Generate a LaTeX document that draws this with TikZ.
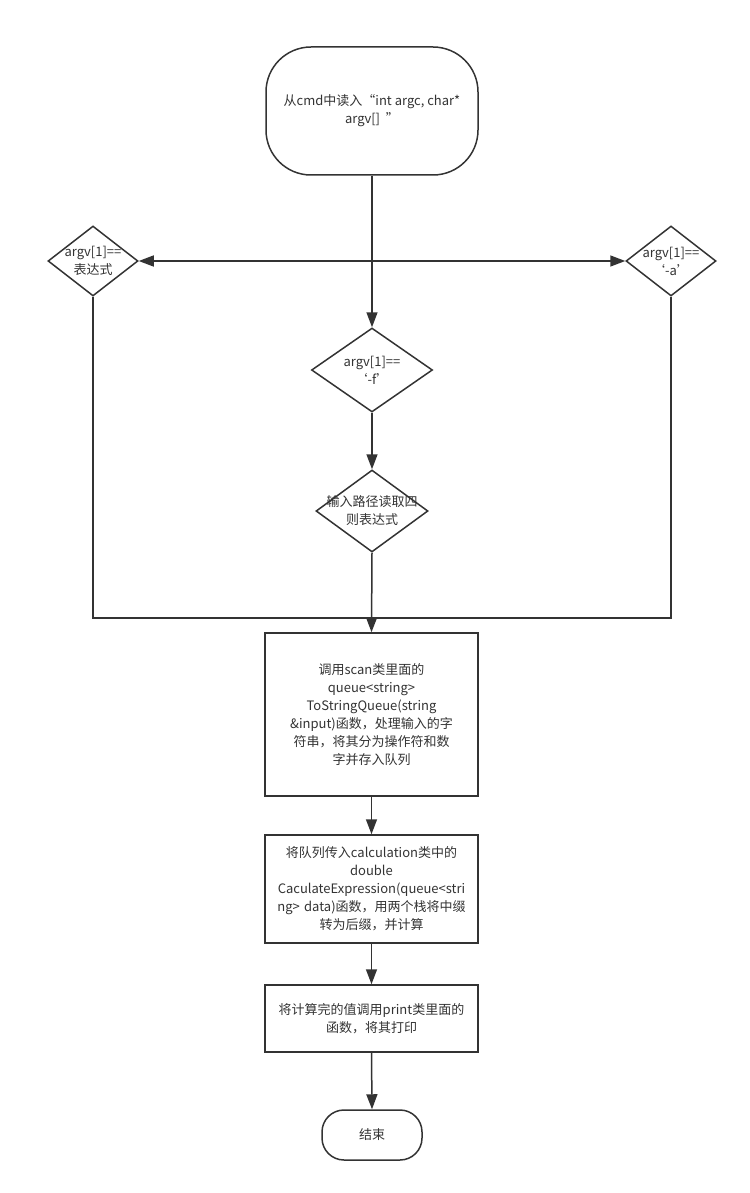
\documentclass[tikz,border=0pt]{standalone}
\usepackage{fontspec}
\setmainfont{Noto Sans CJK SC}
\usetikzlibrary{shapes,arrows,positioning,calc,arrows.meta}

\begin{document}
\begin{tikzpicture}[x=1pt,y=-1pt, line width=1.5pt, draw=black!80,
        every node/.style={font=\fontsize{13}{18}\selectfont, text=black!80},
        proc/.style={draw, rectangle, minimum width=213pt, text width=205pt, align=center},
        term/.style={draw, rectangle, align=center},
        cond/.style={draw, diamond, inner sep=0pt},
        flow/.style={-{Triangle[length=15pt,width=11pt]}}]
        \useasboundingbox (0,0) rectangle (749,1193);

        % Start
        \node[term, minimum width=212pt, minimum height=128pt, rounded corners=45pt] (start) at (372,111)
            {从cmd中读入“int argc, char*\\argv[]\ \ ”};

        % Options
        \node[cond, minimum width=90pt, minimum height=70pt,
            label={[align=center]center:{argv[1]==\\表达式}}] (exprd) at (93,261) {};
        \node[cond, minimum width=90pt, minimum height=70pt,
            label={[align=center]center:{argv[1]==\\‘-a’}}] (ad) at (671,261) {};
        \node[cond, minimum width=121pt, minimum height=84pt,
            label={[align=center]center:{argv[1]==\\‘-f’}}] (fd) at (372,370) {};
        \node[cond, minimum width=112pt, minimum height=82pt,
            label={[align=center]center:{输入路径读取四\\则表达式}}] (pathd) at (372,511) {};

        \coordinate (junc) at (372,261);
        \coordinate (merge) at (372,618);

        % Steps
        \node[proc, minimum height=163pt] (scan) at (371.5,714.5)
            {调用scan类里面的\\queue<string>\\ToStringQueue(string\\\&input)函数，处理输入的字\\符串，将其分为操作符和数\\字并存入队列};
        \node[proc, minimum height=108pt] (calc) at (371.5,889)
            {将队列传入calculation类中的\\double\\CaculateExpression(queue<stri\\ng> data)函数，用两个栈将中缀\\转为后缀，并计算};
        \node[proc, minimum height=67pt] (print) at (371.5,1018.5)
            {将计算完的值调用print类里面的\\函数，将其打印};

        % End
        \node[term, minimum width=100pt, minimum height=50pt, rounded corners=22pt] (end) at (372,1135) {结束};

        % Connectors
        \draw (start.south) -- (junc);
        \draw[flow] (junc) -- (fd.north);
        \draw[flow] (junc) -- (exprd.east);
        \draw[flow] (junc) -- (ad.west);
        \draw[flow] (fd.south) -- (pathd.north);
        \draw (exprd.south) |- (merge);
        \draw (ad.south) |- (merge);
        \draw[flow] (pathd.south) -- (scan.north);
        \draw[flow] (scan.south) -- (calc.north);
        \draw[flow] (calc.south) -- (print.north);
        \draw[flow] (print.south) -- (end.north);
    \end{tikzpicture}
\end{document}
